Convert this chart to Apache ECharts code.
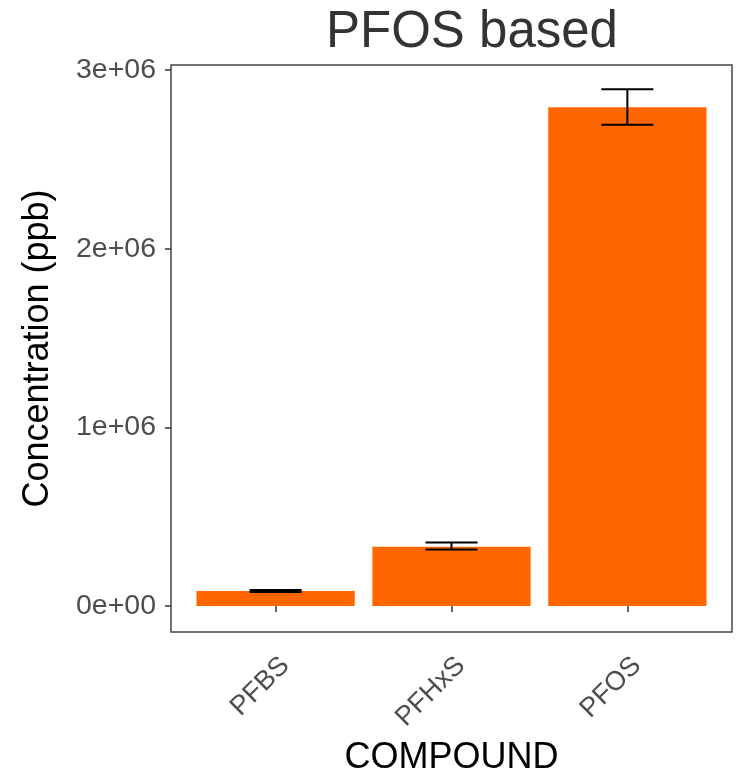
<!DOCTYPE html>
<html>
<head>
<meta charset="utf-8">
<script src="https://cdn.jsdelivr.net/npm/echarts@6/dist/echarts.min.js"></script>
<style>
  html, body { margin: 0; padding: 0; background: #fff; }
  #chart { width: 741px; height: 781px; }
</style>
</head>
<body>
<div id="chart"></div>
<script>
// Mean concentrations with lower/upper error limits (ppb)
const compounds = ['PFBS', 'PFHxS', 'PFOS'];
const concentration = [84000, 332000, 2791000];
const errLow = [78000, 316000, 2694000];
const errHigh = [89000, 356000, 2892000];
const yTicks = [0, 1000000, 2000000, 3000000];
const yTickLabels = ['0e+00', '1e+06', '2e+06', '3e+06'];

const FONT = "'Liberation Sans', Arial, sans-serif";
const positions = compounds.map((_, i) => i + 1);

const barData = compounds.map((c, i) => [positions[i], concentration[i]]);
const errData = compounds.map((c, i) => [positions[i], errLow[i], errHigh[i]]);

const chart = echarts.init(document.getElementById('chart'), null, { renderer: 'canvas' });

chart.setOption({
  animation: false,
  backgroundColor: '#ffffff',
  title: {
    text: 'PFOS based',
    left: 321,
    top: 2,
    textStyle: { fontFamily: FONT, fontSize: 51, fontWeight: 'normal', color: '#333333' }
  },
  grid: {
    left: 171, top: 65, width: 561, height: 567,
    show: true, borderColor: '#444444', borderWidth: 1.5, backgroundColor: '#ffffff'
  },
  xAxis: {
    type: 'value',
    min: 0.405, max: 3.595,
    name: 'COMPOUND',
    nameLocation: 'middle',
    nameGap: 108,
    nameTextStyle: { fontFamily: FONT, fontSize: 36, color: '#000000' },
    axisLine: { show: false },
    splitLine: { show: false },
    axisTick: { show: true, customValues: positions, length: 6, lineStyle: { color: '#333333', width: 1.5 } },
    axisLabel: {
      customValues: positions,
      rotate: 45,
      margin: 20,
      verticalAlign: 'top',
      fontFamily: FONT, fontSize: 27, color: '#4d4d4d',
      formatter: v => compounds[Math.round(v) - 1] || ''
    }
  },
  yAxis: {
    type: 'value',
    min: -145500, max: 3028000,
    name: 'Concentration (ppb)',
    nameLocation: 'middle',
    nameGap: 115,
    nameTextStyle: { fontFamily: FONT, fontSize: 36, color: '#000000' },
    axisLine: { show: false },
    splitLine: { show: false },
    axisTick: { show: true, customValues: yTicks, length: 6, lineStyle: { color: '#333333', width: 1.5 } },
    axisLabel: {
      customValues: yTicks,
      margin: 15,
      fontFamily: FONT, fontSize: 28.5, color: '#4d4d4d',
      formatter: v => yTickLabels[yTicks.indexOf(v)]
    }
  },
  series: [
    {
      name: 'concentration',
      type: 'custom',
      data: barData,
      encode: { x: 0, y: 1 },
      renderItem: (params, api) => {
        const x = api.value(0), v = api.value(1);
        const p0 = api.coord([x - 0.45, v]);
        const p1 = api.coord([x + 0.45, 0]);
        return {
          type: 'rect',
          shape: { x: p0[0], y: p0[1], width: p1[0] - p0[0], height: p1[1] - p0[1] },
          style: { fill: '#ff6600' }
        };
      }
    },
    {
      name: 'error',
      type: 'custom',
      data: errData,
      encode: { x: 0, y: [1, 2] },
      z: 5,
      renderItem: (params, api) => {
        const x = api.value(0), lo = api.value(1), hi = api.value(2);
        const a = api.coord([x, lo]), b = api.coord([x, hi]);
        const l = api.coord([x - 0.148, lo])[0], r = api.coord([x + 0.148, lo])[0];
        const st = { stroke: '#000000', lineWidth: 2 };
        return {
          type: 'group',
          children: [
            { type: 'line', shape: { x1: a[0], y1: a[1], x2: b[0], y2: b[1] }, style: st },
            { type: 'line', shape: { x1: l, y1: a[1], x2: r, y2: a[1] }, style: st },
            { type: 'line', shape: { x1: l, y1: b[1], x2: r, y2: b[1] }, style: st }
          ]
        };
      }
    }
  ]
});
</script>
</body>
</html>
